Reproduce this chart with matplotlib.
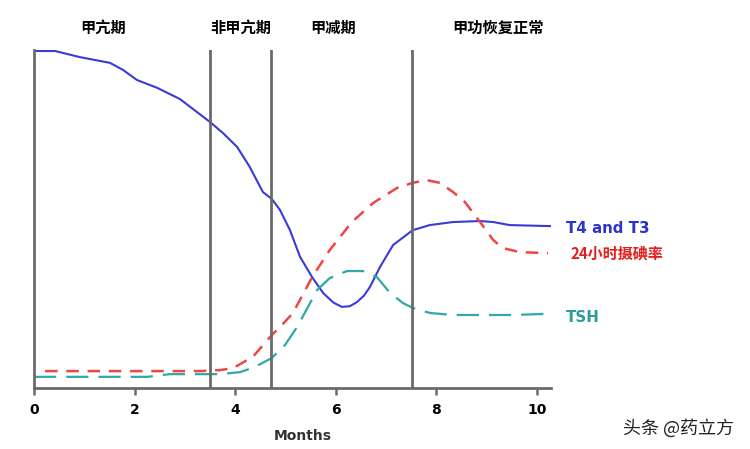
import numpy as np
import matplotlib.pyplot as plt

plt.rcParams['font.family'] = ['DejaVu Sans', 'Noto Sans CJK SC']

# T4 and T3
t4_x = [0, 0.42, 0.91, 1.51, 1.77, 2.05, 2.45, 2.90, 3.50, 3.76, 4.04, 4.29, 4.55,
        4.73, 4.89, 5.09, 5.29, 5.53, 5.75, 5.95, 6.12, 6.28, 6.42, 6.56, 6.68,
        6.88, 7.14, 7.53, 7.87, 8.33, 8.87, 9.13, 9.46, 10.26]
t4_y = [99.7, 99.7, 97.9, 96.2, 94.1, 91.1, 88.8, 85.5, 78.7, 75.4, 71.3, 65.4, 58.0,
        55.9, 52.7, 46.7, 38.8, 32.8, 28.1, 25.3, 24.0, 24.2, 25.4, 27.3, 29.9,
        35.8, 42.3, 46.7, 48.2, 49.1, 49.4, 49.1, 48.2, 47.9]

# 24小时摄碘率
rai_x = [0.22, 1.71, 3.30, 3.70, 3.96, 4.35, 4.73, 4.89, 5.15, 5.53, 5.88, 6.32,
         6.74, 7.22, 7.53, 7.81, 8.07, 8.33, 8.57, 8.87, 9.13, 9.32, 9.66, 10.22]
rai_y = [5.0, 5.0, 5.0, 5.3, 5.9, 9.2, 15.7, 18.0, 22.2, 32.8, 40.8, 49.1,
         54.7, 59.2, 60.7, 61.5, 60.7, 58.0, 55.0, 49.1, 43.8, 41.4, 40.2, 39.9]

# TSH
tsh_x = [0, 1.31, 2.25, 2.70, 3.70, 4.10, 4.39, 4.73, 4.99, 5.23, 5.63, 5.88, 6.22,
         6.54, 6.82, 7.08, 7.34, 7.53, 7.87, 8.33, 9.52, 10.12, 10.26]
tsh_y = [3.3, 3.3, 3.3, 4.1, 4.1, 4.7, 6.2, 8.9, 12.7, 18.0, 29.0, 32.5, 34.6,
         34.6, 32.8, 28.1, 25.1, 23.7, 22.2, 21.6, 21.6, 21.9, 22.5]

phase_lines = [3.5, 4.72, 7.52]
phase_names = ['甲亢期', '非甲亢期', '甲减期', '甲功恢复正常']
phase_label_x = [1.37, 4.12, 5.94, 9.22]

fig = plt.figure(figsize=(7.5, 4.49), dpi=100)
ax = fig.add_axes([34/750, 61/449, 517/750, 338/449])

gray = '#6a6a6a'
ax.plot(t4_x, t4_y, color='#3a3ad8', lw=1.5)
ax.plot(rai_x, rai_y, color='#f04545', lw=1.8, dashes=(5, 3.5))
ax.plot(tsh_x, tsh_y, color='#30a8a8', lw=1.6, dashes=(10, 4.5))

for xv in phase_lines:
    ax.axvline(xv, color=gray, lw=2.0)

ax.set_xlim(0, 10.28)
ax.set_ylim(0, 100)
for s in ['top', 'right']:
    ax.spines[s].set_visible(False)
ax.spines['left'].set_color(gray)
ax.spines['left'].set_linewidth(2.0)
ax.spines['bottom'].set_color(gray)
ax.spines['bottom'].set_linewidth(2.0)
ax.set_yticks([])
ax.set_xticks([0, 2, 4, 6, 8, 10])
ax.tick_params(axis='x', direction='out', length=5, width=1.8, color=gray, pad=6)
for lab in ax.get_xticklabels():
    lab.set_fontweight('bold')
    lab.set_fontsize(10)
ax.set_xlabel('Months', fontweight='bold', fontsize=10, color='#333333')
ax.xaxis.set_label_coords(269/517, -0.12)

for name, xl in zip(phase_names, phase_label_x):
    ax.text(xl, 106.5, name, ha='center', va='center', fontsize=11, fontweight='bold',
            family=['Noto Sans CJK SC', 'DejaVu Sans'], clip_on=False)

ax.text(10.58, 47.3, 'T4 and T3', color='#2b35c8', fontsize=10.8, fontweight='bold',
        va='center', ha='left', clip_on=False)
ax.text(10.66, 39.9, '24小时摄碘率', color='#e41c1c', fontsize=10.8, fontweight='bold',
        va='center', ha='left', clip_on=False, family=['Noto Sans CJK SC', 'DejaVu Sans'])
ax.text(10.58, 21.0, 'TSH', color='#2a9e9e', fontsize=10.8, fontweight='bold',
        va='center', ha='left', clip_on=False)

fig.text(0.905, 0.047, '头条 @药立方', ha='center', va='center', fontsize=13,
         color='#222222', family=['Noto Sans CJK SC', 'DejaVu Sans'])

fig.savefig('out.png', dpi=100)
